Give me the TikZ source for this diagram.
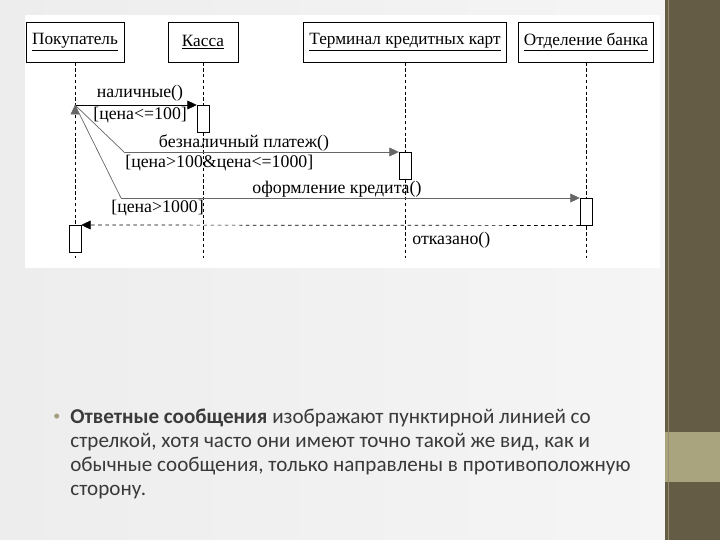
\documentclass[tikz,border=0pt]{standalone}
\usepackage{fontspec}
\setmainfont{Liberation Serif}
\newfontfamily\slidefont{Carlito}
\usepackage{tikz}
\usetikzlibrary{arrows,arrows.meta,positioning}

\definecolor{slidebg}{HTML}{EDEDED}
\definecolor{olivebar}{HTML}{655C46}
\definecolor{khakibar}{HTML}{A9A47E}
\definecolor{msggray}{HTML}{666666}
\definecolor{bodytext}{HTML}{3A3A3A}

\begin{document}
\begin{tikzpicture}[x=0.03cm,y=-0.03cm,>={Triangle[length=8pt,width=7.5pt]},semithick,
                    font=\fontsize{15.2}{17}\selectfont]
  \tikzstyle{object}=[draw,thin,fill=white,minimum height=1.2cm,inner sep=0pt,
                      font=\fontsize{14.7}{17}\selectfont]
  \tikzstyle{activation}=[draw,thin,fill=white,minimum width=0.36cm,
                          minimum height=0.81cm,inner sep=0pt,anchor=north]
  \tikzstyle{lifeline}=[thin,dashed,dash pattern=on 3pt off 2pt]
  \tikzstyle{msg}=[draw=msggray,->]
  \tikzstyle{label}=[inner sep=0pt]

  % slide
  \useasboundingbox (0,0) rectangle (720,540);
  \shade[left color=slidebg,right color=white!96!black] (0,0) rectangle (665,540);
  \fill[white] (25,15) rectangle (660,268);
  \fill[olivebar] (665,0) rectangle (720,540);
  \fill[khakibar] (665,432) rectangle (720,482);
  \draw[khakibar!70!olivebar,very thin] (668,0) -- (668,540);

  % objects
  \node[object,minimum width=2.94cm] (buyer) at (75,42) {\underline{Покупатель}};
  \node[object,minimum width=2.1cm] (cash) at (203,42) {\underline{Касса}};
  \node[object,minimum width=6.09cm] (term) at (405,42) {\underline{Терминал кредитных карт}};
  \node[object,minimum width=4.05cm] (bank) at (586,42) {\underline{Отделение банка}};

  \coordinate (buyerEnd) at (75,258);
  \coordinate (cashEnd)  at (203,258);
  \coordinate (termEnd)  at (405,258);
  \coordinate (bankEnd)  at (586,258);

  \draw[lifeline] (buyer) -- (buyerEnd);
  \draw[lifeline] (cash) -- (cashEnd);
  \draw[lifeline] (term) -- (termEnd);
  \draw[lifeline] (bank) -- (bankEnd);

  % activations
  \node[activation] (actCash)  at (203,105) {};
  \node[activation] (actTerm)  at (405,152) {};
  \node[activation] (actBank)  at (586,198) {};
  \node[activation] (actBuyer) at (75,225) {};

  % messages
  \coordinate (start) at (75,105);
  \coordinate (bendA) at (124,152);
  \coordinate (bendB) at (121,198);

  \path[msg] (start) edge[draw=black] (actCash.north west);
  \draw[msggray] (start) -- (bendA);
  \draw[msg] (bendA) -- (actTerm.north west);
  \draw[msggray] (start) -- (bendB);
  \draw[msg] (bendB) -- (actBank.north west);
  \draw[->,dashed] (actBank.south west) -- (actBuyer.north east);

  % labels
  \node[label] (lCash) at (140,93) {наличные()};
  \node[label,anchor=west] (gCash) at (93,115) {[цена<=100]};
  \node[label] (lTerm) at (244,143) {безналичный платеж()};
  \node[label,anchor=west] (gTerm) at (125,163) {[цена>100\&цена<=1000]};
  \node[label] (lBank) at (337,189) {оформление кредита()};
  \node[label,anchor=west] (gBank) at (111,208) {[цена>1000]};
  \node[label,anchor=west] (lReply) at (412,240) {отказано()};

  % slide text
  \node[text=khakibar!80!gray,font=\slidefont\fontsize{12}{12}\selectfont] (dot) at (57,417) {•};
  \node[anchor=north west,inner sep=0pt,align=left,text=bodytext,
        font=\slidefont\fontsize{18}{20.5}\selectfont] (body) at (70,409)
    {\textbf{Ответные сообщения} изображают пунктирной линией со\\
     стрелкой, хотя часто они имеют точно такой же вид, как и\\
     обычные сообщения, только направлены в противоположную\\
     сторону.};
\end{tikzpicture}
\end{document}
